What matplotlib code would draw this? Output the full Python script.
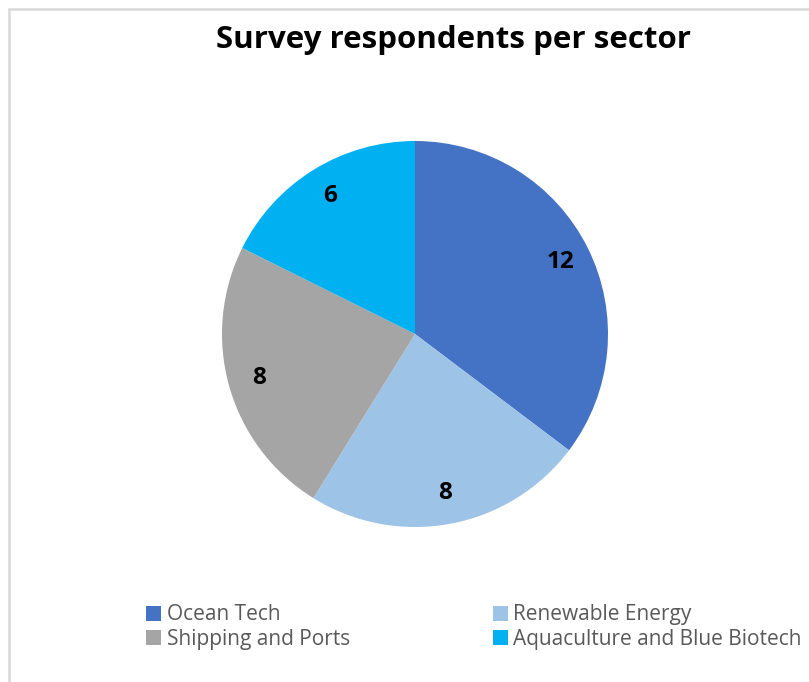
import matplotlib.pyplot as plt
from matplotlib.patches import Rectangle, Patch

# data
sectors = ['Ocean Tech', 'Renewable Energy', 'Shipping and Ports', 'Aquaculture and Blue Biotech']
counts = [12, 8, 8, 6]
colors = ['#4472C4', '#9DC3E6', '#A5A5A5', '#00B0F0']

plt.rcParams['font.family'] = ['Open Sans', 'DejaVu Sans']

W, H = 809, 682
fig = plt.figure(figsize=(W / 100, H / 100), dpi=100)

# light gray chart frame (open at right and bottom like the crop)
fig.patches.append(Rectangle((8.5 / W, -0.1), 1.2, 1 - 8.5 / H + 0.1, transform=fig.transFigure,
                             fill=False, edgecolor='#D9D9D9', linewidth=1.8))

cx, cy, r = 415, 334, 193
ax = fig.add_axes([(cx - r) / W, (H - cy - r) / H, 2 * r / W, 2 * r / H])
wedges, texts = ax.pie(counts, colors=colors, startangle=90, counterclock=False,
                       labels=[str(c) for c in counts], labeldistance=0.84,
                       textprops=dict(fontsize=17.5, fontweight='bold', color='black',
                                      ha='center', va='center'),
                       wedgeprops=dict(linewidth=0))
ax.set_xlim(-1, 1)
ax.set_ylim(-1, 1)
ax.set_aspect('auto')
ax.axis('off')

fig.text(453 / W, 1 - 40 / H, 'Survey respondents per sector', ha='center', va='center',
         fontsize=22.5, fontweight='bold', color='black')

# legend filled row by row (2 columns)
order = [0, 2, 1, 3]
handles = [Patch(facecolor=colors[i], edgecolor='none') for i in order]
labels = [sectors[i] for i in order]
fig.legend(handles, labels, ncol=2, loc='upper left', bbox_to_anchor=(136 / W, 1 - 594 / H),
           frameon=False, fontsize=15, labelcolor='#595959', handlelength=0.72, handleheight=0.72,
           handletextpad=0.25, columnspacing=6.85, labelspacing=0.15, borderpad=0)

fig.savefig('out.png', dpi=100)
